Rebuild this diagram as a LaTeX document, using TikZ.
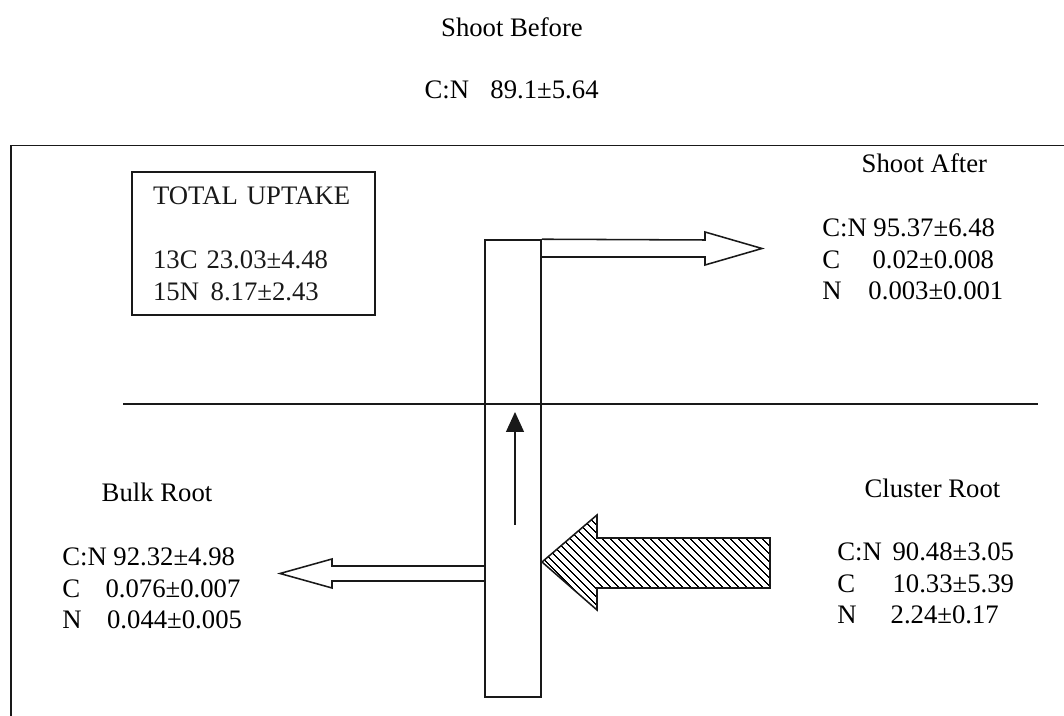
\documentclass[tikz,border=0pt]{standalone}
\usepackage{fontspec}
\setmainfont{Liberation Serif}
\usepackage{tikz}
\usetikzlibrary{%
  positioning,%
  arrows.meta,%
  patterns.meta%
}
\newcommand{\cnrow}[3][1.92em]{\makebox[#1][l]{#2}#3}

\begin{document}
\begin{tikzpicture}[every node/.style={font=\fontsize{19}{22.5}\selectfont, inner sep=0pt},
		bline/.style={line width=1.1pt, black!90},
		vals/.style={align=left, anchor=west}]
		\clip (0,0) rectangle (26.6,17.9);
		%Frame and divider
		\draw[bline] (0.275,-0.5) -- (0.275,14.26) -- (27,14.26);
		\draw[bline] (3.075,7.8) -- (25.95,7.8);
		%
		\node (shootB) at (12.8,17.225) {Shoot Before};
		\node (shootBcn) at (12.79,15.65) {C:N\hspace{0.8em}89.1±5.64};
		\node[draw, bline, align=left, text width=5.025cm, minimum width=6.075cm,
			minimum height=3.575cm, inner xsep=0.525cm] (uptake) at (6.34,11.81)
			{TOTAL UPTAKE\\[0.83cm]13C 23.03±4.48\\15N\hspace{0.1em} 8.17±2.43};
		\node[draw, bline, minimum width=1.4cm, minimum height=11.425cm] (stem) at (12.825,6.1875) {};
		\node (shootA) at (23.11,13.825) {Shoot After};
		\node[vals] (shootAv) at (20.55,11.41)
			{C:N 95.37±6.48\\\cnrow[1.88em]{C}{0.02±0.008}\\\cnrow[1.73em]{N}{0.003±0.001}};
		\node (bulk) at (3.925,5.6) {Bulk Root};
		\node[vals] (bulkv) at (1.55,3.1875)
			{C:N 92.32±4.98\\\cnrow[1.62em]{C}{0.076±0.007}\\\cnrow[1.68em]{N}{0.044±0.005}};
		\node (cluster) at (23.31,5.7) {Cluster Root};
		\node[vals] (clusterv) at (20.925,3.3125)
			{\cnrow[2.07em]{C:N}{90.48±3.05}\\\cnrow[2.07em]{C}{10.33±5.39}\\\cnrow[2em]{N}{2.24±0.17}};
		%
		%Block arrows
		\draw[bline] (stem.north east) -- (17.625,11.9) -- (17.625,12.1) -- (19.05,11.6875)
			-- (17.625,11.275) -- (17.625,11.475) -- (13.525,11.475);
		\draw[bline] (12.125,3.75) -- (8.3,3.75) -- (8.3,3.925) -- (7.0,3.5625)
			-- (8.3,3.2) -- (8.3,3.375) -- (12.125,3.375);
		\draw[bline, pattern={Lines[angle=-45,distance=4pt,line width=0.8pt]}]
			(13.55,3.85) -- (14.925,5.025) -- (14.925,4.45) -- (19.25,4.45)
			-- (19.25,3.2) -- (14.925,3.2) -- (14.925,2.65) -- cycle;
		%
		\coordinate (upS) at (12.875,4.775);
		\coordinate (upE) at (12.875,7.6);
		\draw[bline, line width=0.9pt, -{Triangle[length=0.5cm,width=0.45cm]}] (upS) -- (upE);
	\end{tikzpicture}
\end{document}
